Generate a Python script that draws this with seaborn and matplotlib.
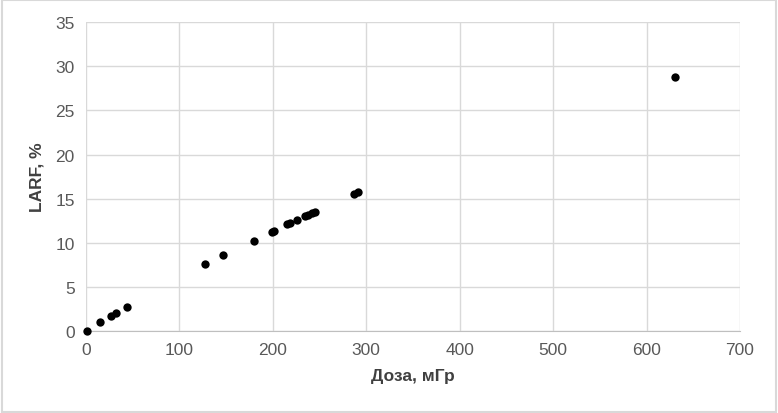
import matplotlib
matplotlib.use("Agg")
import matplotlib.pyplot as plt
import seaborn as sns
import pandas as pd

# Data
dose = [1, 15, 27, 32, 44, 127, 147, 180, 199, 201, 215, 218, 226, 234, 238, 242, 245, 287, 291, 630]
larf = [0.0, 1.0, 1.7, 2.0, 2.7, 7.6, 8.6, 10.2, 11.2, 11.3, 12.1, 12.2, 12.6, 13.0, 13.2, 13.4, 13.5, 15.5, 15.7, 28.8]

df = pd.DataFrame({"dose": dose, "larf": larf})

sns.set_style("white")
plt.rcParams['font.family'] = ['Liberation Sans Narrow', 'Liberation Sans', 'DejaVu Sans']

fig = plt.figure(figsize=(7.78, 4.14), dpi=100)
ax = fig.add_axes([0.1105, 0.198, 0.8406, 0.746])

sns.scatterplot(data=df, x="dose", y="larf", ax=ax, color="black", s=36,
                edgecolor="black", linewidth=0, zorder=3, clip_on=False)

ax.set_xlim(0, 700)
ax.set_ylim(0, 35)
ax.set_xticks(range(0, 701, 100))
ax.set_yticks(range(0, 36, 5))
ax.grid(True, color="#d9d9d9", linewidth=1)
for s in ["top", "right", "left"]:
    ax.spines[s].set_visible(False)
ax.spines["bottom"].set_color("#bfbfbf")
ax.tick_params(axis="both", length=0, labelsize=12.5, labelcolor="#595959", pad=8)

ax.set_xlabel("Доза, мГр", fontsize=12.5, fontweight="bold", color="#404040", labelpad=8)
ax.set_ylabel("LARF, %", fontsize=12.5, fontweight="bold", color="#404040", labelpad=8)

# light frame around the figure
fig.patches.append(plt.Rectangle((0.002, 0.003), 0.996, 0.994, transform=fig.transFigure,
                                 fill=False, edgecolor="#d9d9d9", linewidth=1.5))

fig.savefig("out.png", dpi=100)
